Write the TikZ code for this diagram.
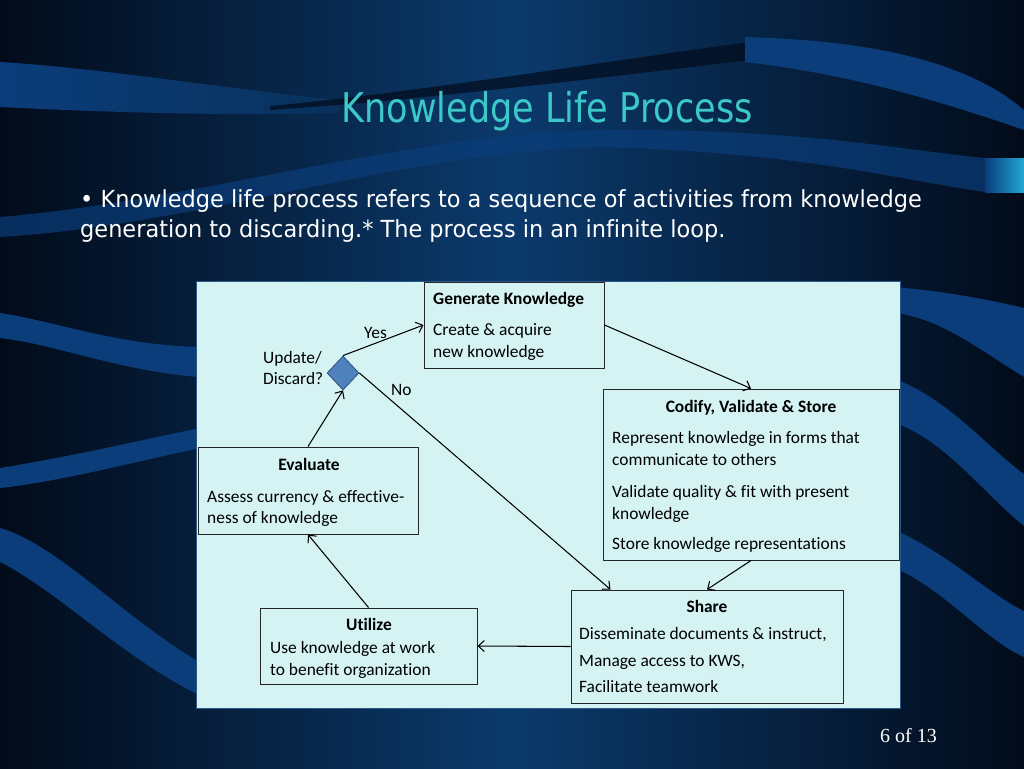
\documentclass[tikz,border=0pt]{standalone}
\usepackage{fontspec}
\setmainfont[Ligatures=NoCommon]{Carlito}
\newfontfamily\tahoma[FakeStretch=0.855,Ligatures=NoCommon]{DejaVu Sans}
\newfontfamily\tahomab[FakeStretch=0.955,Ligatures=NoCommon]{DejaVu Sans}
\newfontfamily\timesf{Liberation Serif}
\usetikzlibrary{shapes.geometric,arrows.meta}
\definecolor{bgdark}{HTML}{020B1A}
\definecolor{bgmid}{HTML}{0B3A6C}
\definecolor{band}{HTML}{0A3D7A}
\definecolor{panel}{HTML}{D5F3F3}
\definecolor{panelborder}{HTML}{2A5A8A}
\definecolor{titlec}{HTML}{3CC8C8}
\definecolor{diafill}{HTML}{4F81BD}
\definecolor{diaedge}{HTML}{2B4F80}
\definecolor{cyanblock}{HTML}{22A8D8}
\begin{document}
\begin{tikzpicture}[x=1pt,y=-1pt,
  box/.style={draw=black!85, line width=1pt, rectangle, inner sep=0pt},
  conn/.style={draw=black, line width=1.05pt, -{Straight Barb[length=6pt,width=11pt]}},
  txt/.style={anchor=base west, inner sep=0pt, font=\fontsize{17.4}{20}\selectfont},
  ttl/.style={anchor=base, inner sep=0pt, font=\fontsize{17.4}{20}\selectfont\bfseries},
  bandfill/.style={fill=band}]
\useasboundingbox (0,0) rectangle (1024,768);
% background
\shade[left color=bgdark, right color=bgdark, middle color=bgmid] (0,0) rectangle (1024,768);
% top-left band
\shade[left color=band, right color=bgmid!80!bgdark] (0,62) .. controls (100,68) and (220,88) .. (340,100) -- (340,113) .. controls (220,116) and (100,112) .. (0,107) -- cycle;
% dark stripe under title area
\fill[bgdark, opacity=0.7] (270,106) .. controls (420,92) and (600,62) .. (750,42) -- (750,60) .. controls (600,78) and (420,100) .. (270,110) -- cycle;
% top-right band
\fill[bandfill] (745,37) .. controls (850,40) and (960,55) .. (1024,110) -- (1024,130) .. controls (960,108) and (860,75) .. (745,62) -- cycle;
% band below title
\fill[bandfill, opacity=0.7] (0,217) .. controls (200,200) and (400,135) .. (600,130) .. controls (800,128) and (900,150) .. (985,158) -- (985,192) .. controls (900,180) and (800,152) .. (600,147) .. controls (400,152) and (200,225) .. (0,237) -- cycle;
\shade[left color=band, right color=cyanblock] (985,158) rectangle (1024,192);
% left bands
\fill[bandfill] (0,313) .. controls (60,322) and (120,347) .. (210,347) -- (210,378) .. controls (120,372) and (60,345) .. (0,338) -- cycle;
\fill[bandfill] (0,468) .. controls (80,455) and (150,438) .. (210,426) -- (210,446) .. controls (150,458) and (60,482) .. (0,488) -- cycle;
\fill[bandfill] (0,528) .. controls (60,545) and (130,625) .. (210,668) -- (210,700) .. controls (130,665) and (60,592) .. (0,562) -- cycle;
% right bands
\fill[bandfill] (895,287) .. controls (950,292) and (990,300) .. (1024,308) -- (1024,377) .. controls (980,350) and (940,318) .. (895,313) -- cycle;
\fill[bandfill] (895,379) .. controls (950,400) and (990,450) .. (1024,474) -- (1024,526) .. controls (985,495) and (945,440) .. (895,423) -- cycle;
\fill[bandfill] (895,530) .. controls (950,555) and (990,595) .. (1024,611) -- (1024,657) .. controls (985,640) and (945,590) .. (895,568) -- cycle;
% title and bullet
\node[anchor=base, inner sep=0pt, text=titlec, font=\tahoma\fontsize{41}{48}\selectfont] (title) at (547,122) {Knowledge Life Process};
\node[anchor=base west, inner sep=0pt, text=white, font=\tahomab\fontsize{23.5}{28}\selectfont] (bul1) at (80,207) {• Knowledge life process refers to a sequence of activities from knowledge};
\node[anchor=base west, inner sep=0pt, text=white, font=\tahomab\fontsize{23.5}{28}\selectfont] (bul2) at (80,237) {generation to discarding.* The process in an infinite loop.};
\node[anchor=base west, inner sep=0pt, text=white, font=\timesf\fontsize{20}{24}\selectfont] (page) at (880,742) {6 of 13};
% panel
\draw[draw=panelborder, fill=panel, line width=0.8pt] (196,281) rectangle (900,708);
% boxes
\node[box, minimum width=180pt, minimum height=86pt] (gen) at (514,325) {};
\node[box, minimum width=296pt, minimum height=171pt] (cod) at (751,474.5) {};
\node[box, minimum width=272pt, minimum height=113pt] (share) at (707,646.5) {};
\node[box, minimum width=217pt, minimum height=76pt] (util) at (368.5,646) {};
\node[box, minimum width=220pt, minimum height=87pt] (eval) at (308,490.5) {};
\node[diamond, draw=diaedge, fill=diafill, line width=0.8pt, inner sep=0pt, minimum width=32pt, minimum height=34pt] (dia) at (343,373) {};
% texts
\node[txt, font=\fontsize{17.4}{20}\selectfont\bfseries] (genT) at (433,304) {Generate Knowledge};
\node[txt] (gen1) at (433,335) {Create \& acquire};
\node[txt] (gen2) at (433,357) {new knowledge};
\node[ttl] (codT) at (751,412) {Codify, Validate \& Store};
\node[txt] (cod1) at (612,443) {Represent knowledge in forms that};
\node[txt] (cod2) at (612,465) {communicate to others};
\node[txt] (cod3) at (612,497) {Validate quality \& fit with present};
\node[txt] (cod4) at (612,519) {knowledge};
\node[txt] (cod5) at (612,549) {Store knowledge representations};
\node[ttl] (shareT) at (707,612) {Share};
\node[txt] (share1) at (579,639) {Disseminate documents \& instruct,};
\node[txt] (share2) at (579,666) {Manage access to KWS,};
\node[txt] (share3) at (579,692) {Facilitate teamwork};
\node[ttl] (utilT) at (369,630) {Utilize};
\node[txt] (util1) at (270,653) {Use knowledge at work};
\node[txt] (util2) at (270,675) {to benefit organization};
\node[ttl] (evalT) at (309,470) {Evaluate};
\node[txt] (eval1) at (207,502) {Assess currency \& effective-};
\node[txt] (eval2) at (207,523) {ness of knowledge};
\node[txt] (lab1) at (263,363) {Update/};
\node[txt] (lab2) at (263,384) {Discard?};
\node[txt] (yes) at (364,338) {Yes};
\node[txt] (no) at (391,395) {No};
% connectors
\draw[conn] (dia.north) -- (gen.west);
\draw[conn] (dia.east) -- ([xshift=40pt]share.north west);
\draw[conn] (eval.north) -- (dia.south);
\draw[conn] (util.north) -- (eval.south);
\draw[conn] (share.west) -- (util.east);
\draw[conn] (cod.south) -- (share.north);
\draw[conn] (gen.east) -- (cod.north);
\end{tikzpicture}
\end{document}
